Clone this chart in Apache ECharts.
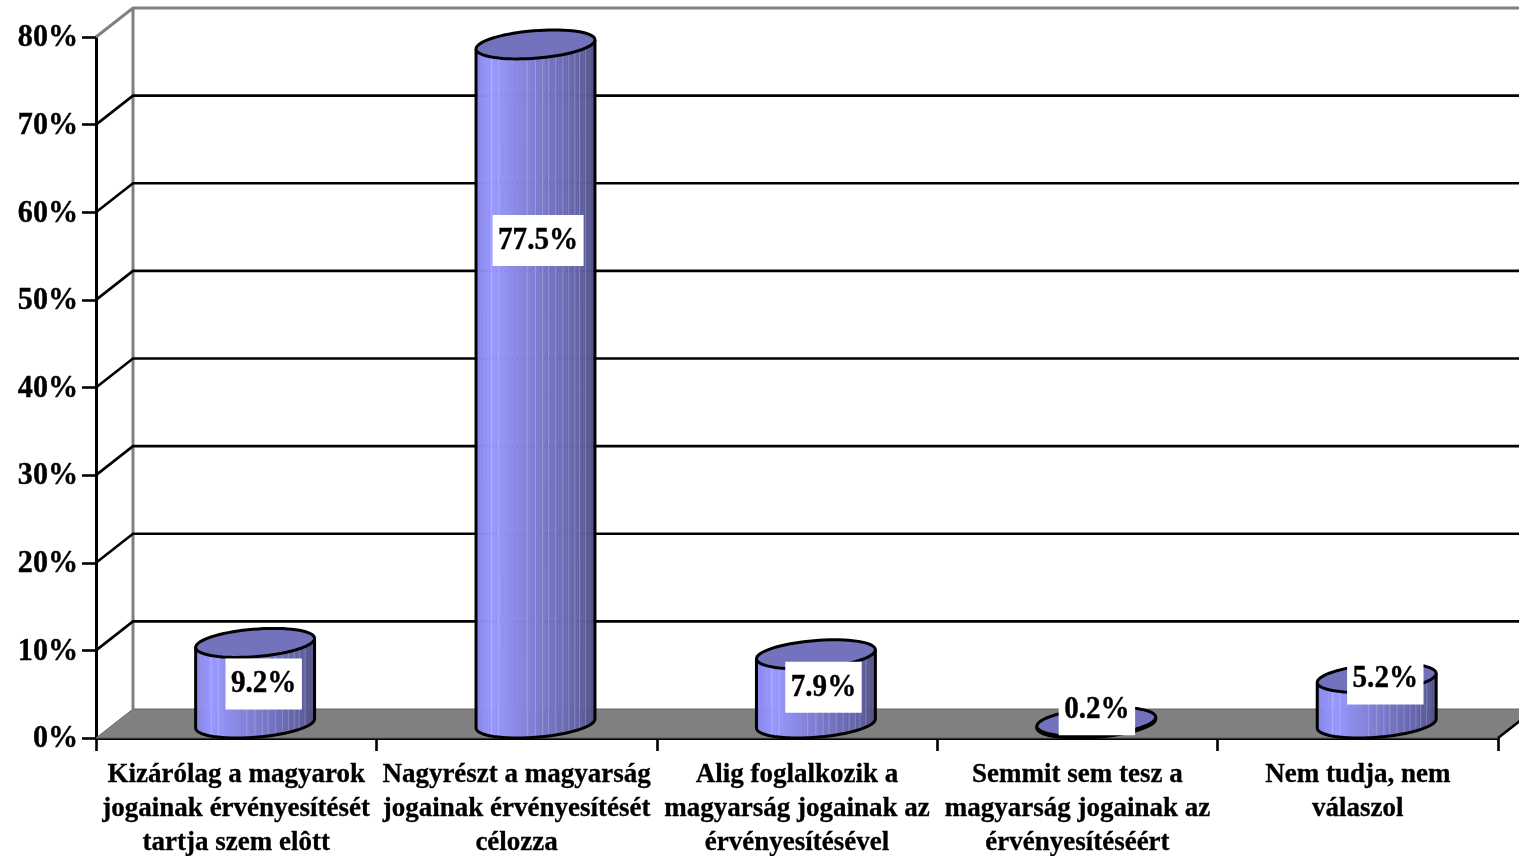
<!DOCTYPE html>
<html>
<head>
<meta charset="utf-8">
<style>html,body{margin:0;padding:0;background:#fff}#c{width:1519px;height:856px}</style>
<script src="https://cdn.jsdelivr.net/npm/echarts@6/dist/echarts.min.js"></script>
</head>
<body>
<div id="c"></div>
<script>
const categories = [
  'Kizárólag a magyarok\njogainak érvényesítését\ntartja szem elôtt',
  'Nagyrészt a magyarság\njogainak érvényesítését\ncélozza',
  'Alig foglalkozik a\nmagyarság jogainak az\nérvényesítésével',
  'Semmit sem tesz a\nmagyarság jogainak az\nérvényesítéséért',
  'Nem tudja, nem\nválaszol'
];
const values = [9.2, 77.5, 7.9, 0.2, 5.2];
const valueTicks = [10, 20, 30, 40, 50, 60, 70, 80];
const tickLabels = [0, 10, 20, 30, 40, 50, 60, 70, 80];
// label box offset (px) from the centre of the cylinder's top face
const labelShift = [[9, 40], [3, 195], [8, 32], [1, -13], [9, 0]];
// where the pale vertical stripes run across a cylinder (0 left .. 1 right)
const stripeAt = [0.13, 0.19, 0.43, 0.5, 0.56, 0.61, 0.67, 0.73, 0.78, 0.83, 0.87, 0.92];

const DX = 37, DY = 29, FONT = '"Liberation Serif","Times New Roman",serif';
const chart = echarts.init(document.getElementById('c'));

function wallItem(params, api) {
  const v = api.value(0), p = api.coord([0, v]);
  const x0 = params.coordSys.x, y = p[1], right = x0 + params.coordSys.width + DX;
  const top = v === 80;
  return { type: 'polyline', silent: true,
    shape: { points: [[x0, y], [x0 + DX, y - DY], [right, y - DY]] },
    style: { fill: null, stroke: top ? '#808080' : '#000', lineWidth: top ? 3 : 2.6 } };
}

function floorItem(params, api) {
  const c = params.coordSys, x0 = c.x, x1 = c.x + c.width, y0 = c.y + c.height;
  return { type: 'group', silent: true, children: [
    { type: 'polygon', shape: { points: [[x0, y0], [x0 + DX, y0 - DY], [x1 + DX, y0 - DY], [x1, y0]] },
      style: { fill: '#808080', stroke: '#666', lineWidth: 1 } },
    { type: 'line', shape: { x1: x0 + DX, y1: c.y - DY, x2: x0 + DX, y2: y0 - DY },
      style: { stroke: '#808080', lineWidth: 3 } },
    { type: 'line', shape: { x1: x1, y1: y0, x2: x1 + DX, y2: y0 - DY },
      style: { stroke: '#000', lineWidth: 2.6 } }
  ] };
}

function tickLabelItem(params, api) {
  const v = api.value(0), p = api.coord([0, v]);
  return { type: 'text', silent: true,
    x: params.coordSys.x - 18, y: p[1] + 1, scaleX: 0.94,
    style: { text: v + '%', font: 'bold 32px ' + FONT, fill: '#000', stroke: '#000', lineWidth: 0.4,
      align: 'right', verticalAlign: 'middle' } };
}

const RX = 56.5, BX = DX / 2, BY = DY / 2, HALF = Math.hypot(RX, BX);
function sideColor(f) {
  const stops = [[0, [132, 132, 232]], [0.14, [153, 153, 255]], [0.5, [125, 125, 210]], [0.85, [100, 100, 170]], [1, [82, 82, 135]]];
  f = Math.min(1, Math.max(0, f));
  for (let i = 1; i < stops.length; i++) {
    if (f <= stops[i][0]) {
      const a = stops[i - 1], b = stops[i], k = (f - a[0]) / (b[0] - a[0]);
      return 'rgb(' + a[1].map((q, j) => Math.round(q + (b[1][j] - q) * k)).join(',') + ')';
    }
  }
  return 'rgb(82,82,135)';
}

function cylinderItem(params, api) {
  const i = api.value(0), v = api.value(1);
  const top = api.coord([i, v]), base = api.coord([i, 0]);
  const cx = top[0] + BX + 0.4, ty = top[1] - BY, by = base[1] - BY;
  const pt = (t, y) => [cx + Math.cos(t) * RX + Math.sin(t) * BX, y - Math.sin(t) * BY];
  const tStart = Math.atan2(BX, RX), N = 40;
  const angle = k => tStart - k / N * Math.PI;
  const frontAt = f => tStart - Math.acos(Math.min(1, Math.max(-1, 2 * f - 1)));
  const children = [];
  for (let k = 0; k < N; k++) {
    const t0 = angle(N - k), t1 = angle(N - k - 1);
    const mid = (pt(t0, 0)[0] + pt(t1, 0)[0]) / 2;
    const col = sideColor((mid - (cx - HALF)) / (2 * HALF));
    children.push({ type: 'polygon', silent: true,
      shape: { points: [pt(t0, ty), pt(t1, ty), pt(t1, by), pt(t0, by)] },
      style: { fill: col, stroke: col, lineWidth: 0.6 } });
  }
  stripeAt.forEach(f => {
    const t = frontAt(f), a = pt(t, ty), b = pt(t, by);
    children.push({ type: 'line', silent: true,
      shape: { x1: a[0], y1: a[1], x2: b[0], y2: b[1] },
      style: { stroke: 'rgba(255,255,255,0.22)', lineWidth: 1 } });
  });
  const lower = [];
  for (let k = 0; k <= 60; k++) lower.push(pt(tStart - k / 60 * Math.PI, by));
  children.push({ type: 'polyline', silent: true,
    shape: { points: [pt(tStart, ty)].concat(lower, [pt(tStart - Math.PI, ty)]) },
    style: { fill: null, stroke: '#000', lineWidth: 3 } });
  const ring = [];
  for (let k = 0; k < 72; k++) ring.push(pt(k / 72 * 2 * Math.PI, ty));
  children.push({ type: 'polygon', silent: true, shape: { points: ring },
    style: { fill: '#7373bd', stroke: '#000', lineWidth: 3 } });
  return { type: 'group', children };
}

function labelItem(params, api) {
  const i = api.value(0), v = api.value(1);
  const top = api.coord([i, v]), s = labelShift[i];
  return { type: 'text', silent: true, z2: 100,
    x: top[0] + BX + s[0], y: top[1] - BY + s[1] + 1, scaleX: 0.91,
    style: { text: v.toFixed(1) + '%', font: 'bold 32px ' + FONT, fill: '#000',
      stroke: '#000', lineWidth: 0.4,
      align: 'center', verticalAlign: 'middle',
      backgroundColor: '#fff', padding: [10, 6, 9, 6] } };
}

chart.setOption({
  animation: false,
  backgroundColor: '#fff',
  grid: { left: 96, right: 21, top: 37, height: 701, outerBoundsMode: 'none' },
  xAxis: {
    type: 'category', data: categories,
    axisLine: { lineStyle: { color: '#000', width: 3 } },
    axisTick: { show: true, length: 13, lineStyle: { color: '#000', width: 2.6 } },
    axisLabel: { interval: 0, margin: 20, color: '#000', fontFamily: FONT, fontWeight: 'bold', fontSize: 27, lineHeight: 34, verticalAlign: 'top',
      textBorderColor: '#000', textBorderWidth: 0.3 },
    splitLine: { show: false }
  },
  yAxis: {
    type: 'value', min: 0, max: 80, interval: 10,
    axisLine: { show: true, lineStyle: { color: '#000', width: 3 } },
    axisTick: { show: true, length: 14, lineStyle: { color: '#000', width: 2.6 } },
    axisLabel: { show: false },
    splitLine: { show: false }
  },
  series: [
    { type: 'custom', coordinateSystem: 'cartesian2d', clip: false, z: 1, data: [[0, 0]], renderItem: floorItem },
    { type: 'custom', coordinateSystem: 'cartesian2d', clip: false, z: 2, data: valueTicks.map(t => [t]), encode: { y: 0 }, renderItem: wallItem },
    { type: 'custom', coordinateSystem: 'cartesian2d', clip: false, z: 2, data: tickLabels.map(t => [t]), encode: { y: 0 }, renderItem: tickLabelItem },
    { type: 'custom', coordinateSystem: 'cartesian2d', clip: false, z: 3, data: values.map((v, i) => [i, v]), renderItem: cylinderItem },
    { type: 'custom', coordinateSystem: 'cartesian2d', clip: false, z: 4, data: values.map((v, i) => [i, v]), renderItem: labelItem }
  ]
});
</script>
</body>
</html>
